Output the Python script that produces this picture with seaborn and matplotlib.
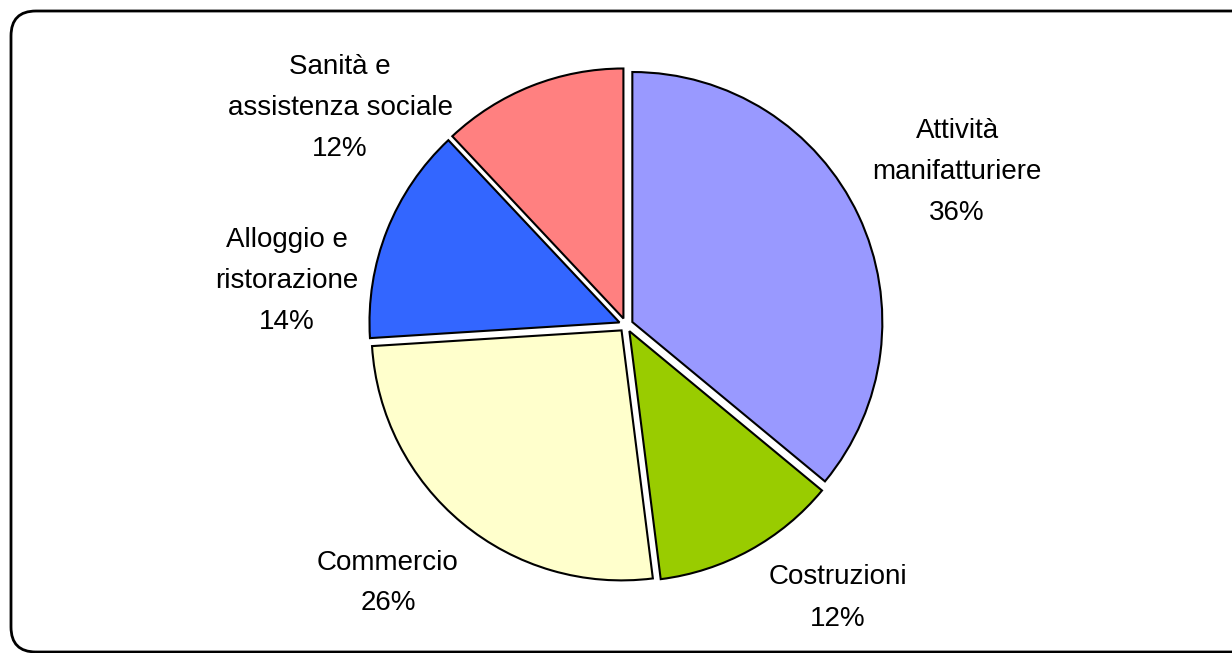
import matplotlib
matplotlib.use('Agg')
import matplotlib.pyplot as plt
from matplotlib.patches import FancyBboxPatch
import seaborn as sns

# data
settori = ['Attività\nmanifatturiere', 'Costruzioni', 'Commercio',
           'Alloggio e\nristorazione', 'Sanità e\nassistenza sociale']
quote = [36, 12, 26, 14, 12]
colori = ['#9999FF', '#99CC00', '#FFFFCC', '#3366FF', '#FF8080']

# label block centres, in pixels from top-left
label_xy = [(957, 172), (838, 598), (388, 583), (287, 281), (340, 108)]

sns.set_theme(style='white')
plt.rcParams['font.family'] = ['Liberation Sans', 'DejaVu Sans']

W, H = 1232, 653
R = 250
fig = plt.figure(figsize=(W / 100, H / 100), dpi=100)
ax = fig.add_axes([0, 0, 1, 1])

pal = sns.color_palette(colori)
# matplotlib explode is in data units, not a fraction of radius
ax.pie(quote, colors=pal, startangle=90, counterclock=False,
       center=(626, H - 325), radius=R, explode=[0.028 * R] * len(quote),
       wedgeprops=dict(edgecolor='black', linewidth=1.5))

for nome, q, (x, y) in zip(settori, quote, label_xy):
    ax.text(x, H - y, f'{nome}\n{q}%', ha='center', va='center',
            fontsize=20, linespacing=1.75, color='black')

# rounded chart frame (runs off the right/bottom of the image)
frame = FancyBboxPatch((11, 1), 1260, 641, boxstyle='round,pad=0,rounding_size=25',
                       fill=False, edgecolor='black', linewidth=2)
ax.add_patch(frame)

ax.set_xlim(0, W)
ax.set_ylim(0, H)
ax.set_aspect('equal')
ax.axis('off')

plt.savefig('out.png', dpi=100, facecolor='white')
